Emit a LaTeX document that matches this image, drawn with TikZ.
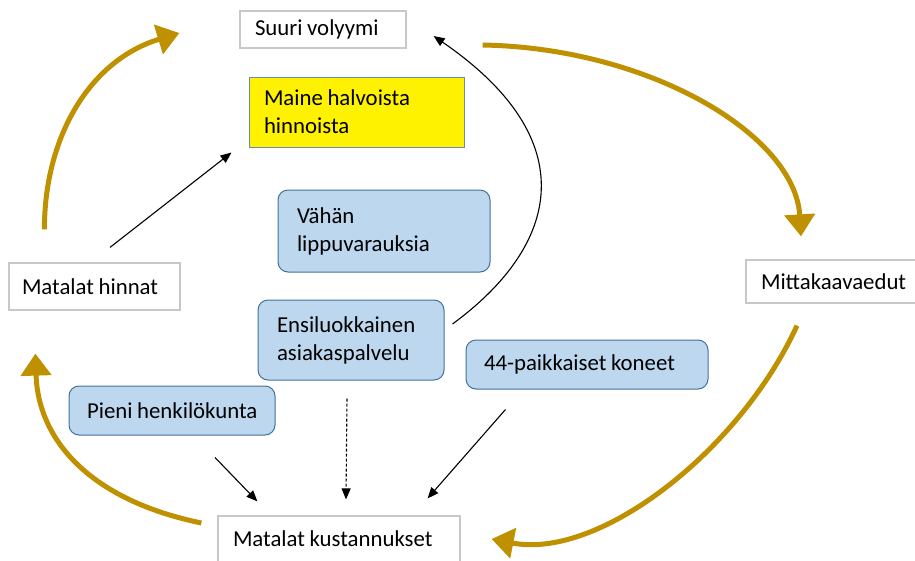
\documentclass[tikz,border=0pt]{standalone}
\usepackage{fontspec}
\setmainfont{Carlito}
\usetikzlibrary{arrows.meta,calc}
\definecolor{gold}{RGB}{191,144,0}
\definecolor{boxblue}{RGB}{189,215,238}
\definecolor{edgeblue}{RGB}{65,113,156}
\definecolor{edgegray}{RGB}{200,200,200}
\tikzset{
  base/.style={minimum width=#1, text width=#1-30pt, inner xsep=15pt, inner ysep=0pt, align=left, anchor=center,
    execute at begin node={\spaceskip=0.2em\relax}},
  plainbox/.style={draw=edgegray, line width=1.2pt, fill=white},
  softbox/.style={draw=edgeblue, line width=1pt, fill=boxblue, rounded corners=10pt},
  yellowbox/.style={draw=edgeblue!80, line width=1pt, fill=yellow},
  loop/.style={draw=gold, line width=5pt, -{Triangle[width=30pt,length=22pt]}},
  cause/.style={draw=black, line width=1.1pt, -{Triangle[width=9pt,length=11pt]}},
  hint/.style={cause, dash pattern=on 3pt off 2pt}
}
\begin{document}
\begin{tikzpicture}[x=1pt, y=-1pt, font=\fontsize{22.8}{28}\selectfont]
\useasboundingbox (0,0) rectangle (915,560);
\clip (0,0) rectangle (915,560);

% boxes of the cycle
\node[plainbox, base=166pt, minimum height=37pt] (vol) at (323,29.5) {\mbox{Suuri volyymi}};
\node[plainbox, base=171pt, minimum height=47pt, inner xsep=13pt, text width=145pt] (hin) at (94.5,286.5) {\mbox{Matalat hinnat}};
\node[plainbox, base=184pt, minimum height=43pt] (mitta) at (838,281.5) {\mbox{Mittakaavaedut}};
\node[plainbox, base=242pt, minimum height=46pt] (kust) at (339,539) {\mbox{Matalat kustannukset}};

% contributing factors
\node[yellowbox, base=215pt, minimum height=70pt] (maine) at (356.5,112) {Maine halvoista\\hinnoista};
\node[softbox, base=212pt, minimum height=82pt, inner xsep=19pt, text width=174pt] (vahan) at (384,231) {Vähän\\lippuvarauksia};
\node[softbox, base=186pt, minimum height=80pt, inner xsep=19pt, text width=148pt] (ensi) at (351,340) {Ensiluokkainen\\asiakaspalvelu};
\node[softbox, base=242pt, minimum height=49pt, inner xsep=18pt, text width=206pt] (koneet) at (587,364.5) {\mbox{44-paikkaiset koneet}};
\node[softbox, base=206pt, minimum height=49pt, inner xsep=18pt, text width=170pt] (pieni) at (172,410.5) {\mbox{Pieni henkilökunta}};

% the main cycle
\draw[loop] ($(hin.north west)+(36,-33)$) to[out=90, in=197] ($(vol.west)+(-60,3.5)$);
\draw[loop] ($(vol.east)+(76,15.5)$) .. controls (650,48) and (795,135) .. ($(mitta.north)+(-37,-23)$);
\draw[loop] ($(mitta.south)+(-41,22)$) .. controls (740,450) and (600,560) .. ($(kust.east)+(31,0)$);
\draw[loop] ($(kust.west)+(-16,-16)$) .. controls (90,500) and (38,440) .. ($(hin.south west)+(27,43)$);

% causal links
\draw[cause] ($(hin.north)+(15.5,-15)$) -- ($(maine.south west)+(-17,5)$);
\draw[cause] ($(ensi.east)+(8,-16)$) .. controls (560,245) and (585,140) .. ($(vol.east)+(27,6.5)$);
\draw[cause] ($(pieni.south)+(43,22)$) -- ($(kust.north west)+(40,-14)$);
\draw[hint] ($(ensi.south)+(-4,18)$) -- ($(kust.north)+(7,-16)$);
\draw[cause] ($(koneet.south west)+(40,20)$) -- ($(kust.north east)+(-33,-17)$);
\end{tikzpicture}
\end{document}
